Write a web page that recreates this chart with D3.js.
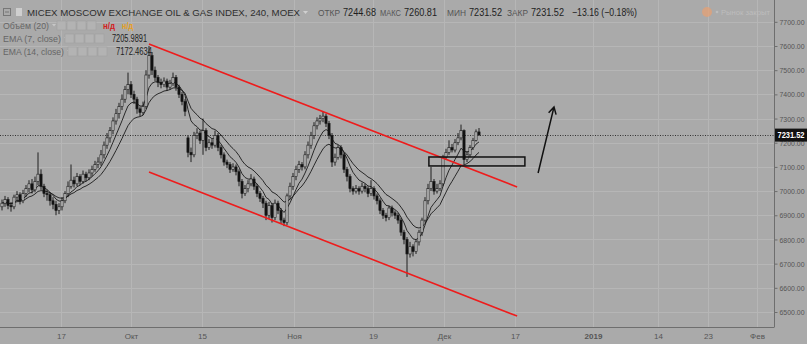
<!DOCTYPE html>
<html><head><meta charset="utf-8">
<script src="https://cdn.jsdelivr.net/npm/d3@7"></script>
<style>
body{margin:0;background:#aaaaaa;}
svg{display:block;font-family:"Liberation Sans",Arial,sans-serif;}
</style></head><body>
<svg id="chart" width="807" height="344"></svg>
<script>
// 4h candles, MICEX Oil & Gas index
const open = [6935,6950,6965,6940,6935,6975,6985,6960,6990,7010,
  7030,7005,7040,7070,7020,6990,6985,6960,6945,6920,
  6935,6960,6990,7020,7045,7030,7060,7040,7070,7055,
  7075,7090,7110,7120,7150,7190,7220,7250,7290,7320,
  7350,7380,7420,7440,7400,7380,7340,7325,7350,7480,
  7560,7500,7470,7450,7440,7455,7430,7445,7470,7430,
  7400,7370,7220,7160,7150,7230,7240,7210,7250,7180,
  7200,7190,7230,7180,7150,7120,7110,7090,7100,7080,
  7040,6990,7010,7030,7050,7020,6990,6970,6950,6900,
  6940,6890,6950,6920,6880,6870,6980,7020,7060,7090,
  7110,7100,7150,7190,7230,7270,7290,7300,7310,7280,
  7230,7120,7140,7180,7150,7090,7060,7010,7000,7010,
  7000,7020,7010,6990,7010,6980,6960,6920,6900,6890,
  6930,6910,6900,6880,6830,6800,6740,6770,6750,6790,
  6830,6880,6960,7010,7040,7000,7010,7030,7140,7160,
  7180,7170,7200,7220,7250,7130,7150,7180,7210,7244.68];
const high = [6965,6980,6975,6955,6985,7000,6995,7005,7025,7045,
  7050,7060,7160,7090,7030,7005,6995,6975,6960,6950,
  6975,7000,7040,7110,7060,7075,7070,7085,7080,7090,
  7105,7125,7140,7170,7205,7240,7265,7305,7340,7365,
  7400,7435,7490,7455,7415,7390,7350,7370,7500,7600,
  7575,7515,7480,7465,7470,7465,7460,7490,7480,7440,
  7410,7380,7230,7180,7245,7260,7250,7300,7260,7215,
  7215,7250,7240,7190,7160,7130,7120,7115,7110,7090,
  7050,7025,7045,7070,7060,7030,7000,6980,6960,6955,
  6950,6965,6960,6930,6890,6990,7035,7075,7105,7125,
  7120,7165,7205,7245,7285,7305,7315,7330,7320,7290,
  7240,7155,7190,7190,7160,7100,7070,7020,7025,7020,
  7035,7030,7020,7045,7020,6990,6970,6930,6910,6940,
  6940,6920,6910,6890,6840,6810,6790,6780,6800,6840,
  6890,6975,7030,7100,7050,7030,7045,7150,7175,7210,
  7195,7215,7240,7275,7255,7165,7190,7220,7255,7260.81];
const low = [6920,6935,6925,6915,6925,6960,6945,6950,6975,6995,
  6990,6995,7025,7005,6975,6960,6940,6925,6900,6905,
  6920,6950,6975,7010,7015,7020,7025,7030,7040,7045,
  7060,7080,7095,7105,7135,7175,7200,7235,7275,7300,
  7335,7365,7400,7385,7360,7320,7310,7315,7340,7465,
  7480,7455,7430,7425,7430,7415,7420,7435,7415,7385,
  7355,7310,7140,7120,7140,7215,7195,7150,7165,7170,
  7175,7180,7165,7135,7105,7095,7075,7080,7065,7020,
  6970,6980,6995,7020,7005,6975,6955,6930,6880,6885,
  6870,6880,6905,6865,6855,6860,6965,7005,7045,7075,
  7085,7090,7135,7175,7215,7255,7275,7285,7265,7215,
  7100,7105,7130,7135,7075,7040,6995,6985,6990,6985,
  6990,6995,6975,6980,6965,6945,6905,6885,6875,6880,
  6895,6885,6865,6815,6780,6645,6725,6730,6740,6775,
  6815,6870,6945,7000,6985,6990,7000,7020,7130,7150,
  7160,7160,7190,7210,7110,7120,7140,7170,7205,7231.52];
const close = [6950,6965,6940,6935,6975,6985,6960,6990,7010,7030,
  7005,7040,7070,7020,6990,6985,6960,6945,6920,6935,
  6960,6990,7020,7045,7030,7060,7040,7070,7055,7075,
  7090,7110,7120,7150,7190,7220,7250,7290,7320,7350,
  7380,7420,7440,7400,7380,7340,7325,7350,7480,7560,
  7500,7470,7450,7440,7455,7430,7445,7470,7430,7400,
  7370,7330,7160,7150,7230,7240,7210,7250,7180,7200,
  7190,7230,7180,7150,7120,7110,7090,7100,7080,7040,
  6990,7010,7030,7050,7020,6990,6970,6950,6900,6940,
  6890,6950,6920,6880,6870,6980,7020,7060,7090,7110,
  7100,7150,7190,7230,7270,7290,7300,7310,7280,7230,
  7120,7140,7180,7150,7090,7060,7010,7000,7010,7000,
  7020,7010,6990,7010,6980,6960,6920,6900,6890,6930,
  6910,6900,6880,6830,6800,6740,6770,6750,6790,6830,
  6880,6960,7010,7040,7000,7010,7030,7140,7160,7180,
  7170,7200,7220,7250,7130,7150,7180,7210,7245,7231.52];

// time axis (positions in candle index units)
const xTickIdx = [19.67, 43, 66.67, 97.33, 123.67, 147.33, 171, 197, 218.67, 235.33, 251.67];
const xTickLabels = ["17", "Окт", "15", "Ноя", "19", "Дек", "17", "2019", "14", "23", "Фев"];
const yTicks = [6500, 6600, 6700, 6800, 6900, 7000, 7100, 7200, 7300, 7400, 7500, 7600, 7700];
const lastPrice = 7231.52;

// drawings: [candle index, price]
const upperChannel = [[49, 7608], [171.7, 7017]];
const lowerChannel = [[49, 7079], [171.7, 6483]];
const supportBox = [[142.3, 7141], [174.3, 7104]];
const arrowLine = [[178.7, 7075], [184, 7348]];

const W = 807, H = 344, plotW = 774, plotH = 327;
const svg = d3.select("#chart");

const x = d3.scaleLinear().domain([0, 159]).range([2, 479]);
const y = d3.scaleLinear().domain([6500, 7600]).range([312, 46]);

svg.append("rect").attr("width", W).attr("height", H).attr("fill", "#aaaaaa");

// grid
svg.append("g").selectAll("line").data(yTicks).join("line")
  .attr("x1", 0).attr("x2", plotW)
  .attr("y1", d => Math.round(y(d)) + 0.5).attr("y2", d => Math.round(y(d)) + 0.5)
  .attr("stroke", "#b6b6b6");
svg.append("g").selectAll("line").data(xTickIdx).join("line")
  .attr("x1", d => Math.round(x(d)) + 0.5).attr("x2", d => Math.round(x(d)) + 0.5)
  .attr("y1", 0).attr("y2", plotH)
  .attr("stroke", "#b6b6b6");

svg.append("clipPath").attr("id", "clip")
  .append("rect").attr("width", plotW).attr("height", plotH);
const plot = svg.append("g").attr("clip-path", "url(#clip)");

// last price dotted line
plot.append("line")
  .attr("x1", 0).attr("x2", plotW)
  .attr("y1", Math.round(y(lastPrice)) + 0.5).attr("y2", Math.round(y(lastPrice)) + 0.5)
  .attr("stroke", "#333").attr("stroke-dasharray", "1,1.5");

// EMAs
function ema(vals, n) {
  const k = 2 / (n + 1);
  let prev = vals[0];
  return vals.map(v => (prev = v * k + prev * (1 - k)));
}
const line = d3.line().x((d, i) => x(i)).y(d => y(d));
[ema(close, 7), ema(close, 14)].forEach(s => {
  plot.append("path").attr("d", line(s))
    .attr("fill", "none").attr("stroke", "#1a1a1a").attr("stroke-width", 0.9);
});

// candles
const idx = d3.range(close.length);
const candles = plot.append("g");
candles.selectAll("line").data(idx).join("line")
  .attr("x1", i => x(i)).attr("x2", i => x(i))
  .attr("y1", i => y(high[i])).attr("y2", i => y(low[i]))
  .attr("stroke", "#111").attr("stroke-width", 0.9);
candles.selectAll("rect").data(idx).join("rect")
  .attr("x", i => x(i) - 1.1).attr("width", 2.2)
  .attr("y", i => y(Math.max(open[i], close[i])))
  .attr("height", i => Math.max(1, Math.abs(y(open[i]) - y(close[i]))))
  .attr("fill", i => close[i] >= open[i] ? "#c4c4c4" : "#111")
  .attr("stroke", "#1a1a1a").attr("stroke-width", 0.6);

// drawings
const pt = d => [x(d[0]), y(d[1])];
[upperChannel, lowerChannel].forEach(c => {
  plot.append("path").attr("d", d3.line()(c.map(pt)))
    .attr("stroke", "#ee1c1c").attr("stroke-width", 1.6).attr("fill", "none");
});
const b0 = pt(supportBox[0]), b1 = pt(supportBox[1]);
plot.append("rect")
  .attr("x", b0[0]).attr("y", b0[1])
  .attr("width", b1[0] - b0[0]).attr("height", b1[1] - b0[1])
  .attr("fill", "none").attr("stroke", "#111").attr("stroke-width", 1.5);
const a0 = pt(arrowLine[0]), a1 = pt(arrowLine[1]);
const ang = Math.atan2(a1[1] - a0[1], a1[0] - a0[0]);
const head = [-0.5, 0.5].map(o => [a1[0] - 8 * Math.cos(ang + o), a1[1] - 8 * Math.sin(ang + o)]);
plot.append("path")
  .attr("d", d3.line()([a0, a1]) + "M" + head[0] + "L" + a1 + "L" + head[1])
  .attr("fill", "none").attr("stroke", "#111").attr("stroke-width", 1.5);

// axes frame
svg.append("line").attr("x1", plotW + 0.5).attr("x2", plotW + 0.5).attr("y1", 0).attr("y2", plotH)
  .attr("stroke", "#6e6e6e");
svg.append("line").attr("x1", 0).attr("x2", plotW + 0.5).attr("y1", plotH + 0.5).attr("y2", plotH + 0.5)
  .attr("stroke", "#6e6e6e");

const yAxis = svg.append("g").attr("transform", `translate(${plotW + 0.5},0)`)
  .call(d3.axisRight(y).tickValues(yTicks).tickSize(3).tickPadding(2).tickFormat(d3.format(".2f")));
yAxis.select(".domain").remove();
yAxis.selectAll("line").attr("stroke", "#6e6e6e");
yAxis.selectAll("text").attr("fill", "#555").attr("font-size", 8)
  .attr("textLength", 25).attr("lengthAdjust", "spacingAndGlyphs");

const xAxis = svg.append("g").attr("transform", `translate(0,${plotH + 3})`)
  .call(d3.axisBottom(x).tickValues(xTickIdx).tickSize(0).tickPadding(3)
    .tickFormat((d, i) => xTickLabels[i]));
xAxis.select(".domain").remove();
xAxis.selectAll("text").attr("fill", "#555").attr("font-size", 8)
  .attr("font-weight", (d, i) => xTickLabels[i] === "2019" ? "bold" : null);

// last price tag
const py = y(lastPrice);
svg.append("rect").attr("x", plotW + 1).attr("y", py - 6.5).attr("width", 32).attr("height", 13).attr("fill", "#111");
svg.append("text").attr("x", plotW + 17).attr("y", py + 3.2).attr("text-anchor", "middle")
  .attr("fill", "#fff").attr("font-size", 8.5).attr("font-weight", "bold")
  .attr("textLength", 27).attr("lengthAdjust", "spacingAndGlyphs").text(lastPrice.toFixed(2));

// header legend
const hd = svg.append("g");
function txt(xp, yp, s, size, color, opts = {}) {
  const t = hd.append("text").attr("x", xp).attr("y", yp).attr("font-size", size).attr("fill", color).text(s);
  if (opts.len) t.attr("textLength", opts.len).attr("lengthAdjust", "spacingAndGlyphs");
  if (opts.weight) t.attr("font-weight", opts.weight);
  return t;
}
hd.append("rect").attr("x", 3.5).attr("y", 8.5).attr("width", 7).attr("height", 7).attr("fill", "none").attr("stroke", "#777");
hd.append("line").attr("x1", 5).attr("x2", 9).attr("y1", 12).attr("y2", 12).attr("stroke", "#777");
hd.append("rect").attr("x", 16).attr("y", 8).attr("width", 6).attr("height", 8).attr("fill", "#cfcfcf");
txt(27, 16, "MICEX MOSCOW EXCHANGE OIL & GAS INDEX, 240, MOEX", 9.5, "#2e2e2e", {len: 273});
hd.append("path").attr("d", "M303,11h5l-2.5,3z").attr("fill", "#d0d0d0");
const ohlc = [["ОТКР", 318, 343, "7244.68"], ["МАКС", 380, 404, "7260.81"], ["МИН", 447, 469, "7231.52"], ["ЗАКР", 507, 531, "7231.52"]];
ohlc.forEach(o => {
  txt(o[1], 16, o[0], 8.5, "#555", {len: o[2] - o[1] - 3});
  txt(o[2], 16, o[3], 10, "#1e1e1e", {len: 33});
});
txt(572, 16, "\u221213.16 (\u22120.18%)", 10.5, "#1e1e1e", {len: 65});
hd.append("circle").attr("cx", 707).attr("cy", 12).attr("r", 5).attr("fill", "#e8a070").attr("opacity", 0.7);
hd.append("circle").attr("cx", 717).attr("cy", 12).attr("r", 1.3).attr("fill", "#bdbdbd");
txt(721, 15, "Рынок закрыт", 8, "#bdbdbd", {len: 49});

const legendRows = [
  ["Объём (20)", 26, 57, 46],
  ["EMA (7, close)", 39, 65, 58],
  ["EMA (14, close)", 52, 68, 61]
];
legendRows.forEach(r => {
  txt(3, r[1] + 3, r[0], 9.5, "#666", {len: r[3]});
  hd.append("path").attr("d", `M${r[3] + 6},${r[1] - 2}h4l-2,2.5z`).attr("fill", "#c8c8c8");
  for (let k = 0; k < 4; k++) {
    hd.append("rect").attr("x", r[2] + k * 10).attr("y", r[1] - 5).attr("width", 9).attr("height", 9)
      .attr("fill", "#b3b3b3").attr("stroke", "#a0a0a0").attr("stroke-width", 0.6);
  }
});
txt(103, 29, "н/д", 9.5, "#d42020", {weight: "bold", len: 12});
txt(122, 29, "н/д", 9.5, "#e6a020", {weight: "bold", len: 11});
txt(112, 42, "7205.9891", 10.5, "#1e1e1e", {len: 35});
txt(116, 55, "7172.4634", 10.5, "#1e1e1e", {len: 36});
</script>
</body></html>
